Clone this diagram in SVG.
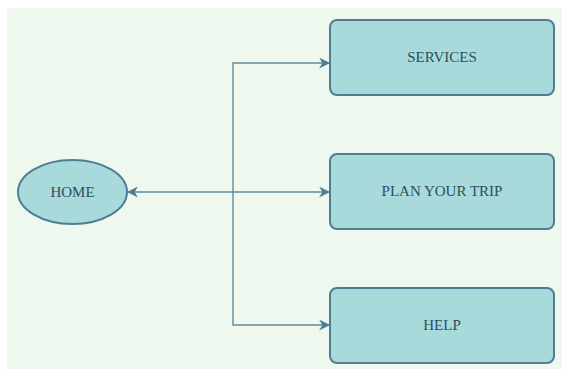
<svg xmlns="http://www.w3.org/2000/svg" width="563" height="370" viewBox="0 0 563 370">
  <style>
    .node { fill: #a8d9db; stroke: #4f7d92; stroke-width: 2; }
    .label { font-family: "Liberation Serif", "Times New Roman", serif; font-size: 15px; fill: #2e4e5c; text-anchor: middle; dominant-baseline: central; }
    .link { fill: none; stroke: #5f8c9d; stroke-width: 1.4; }
  </style>
  <defs>
    <marker id="arrow" viewBox="0 0 10 10" refX="9" refY="5" markerWidth="11" markerHeight="11" markerUnits="userSpaceOnUse" orient="auto-start-reverse">
      <path d="M0,0 L10,5 L0,10 L3,5 Z" fill="#4f7d92"/>
    </marker>
  </defs>
  <rect x="0" y="0" width="563" height="370" fill="#ffffff"/>
  <rect x="7" y="8" width="555" height="361" fill="#eff8ee"/>

  <g id="connectors">
    <path class="link" d="M128,192 L329,192" marker-start="url(#arrow)" marker-end="url(#arrow)"/>
    <path class="link" d="M233,192 L233,63 L329,63" marker-end="url(#arrow)"/>
    <path class="link" d="M233,192 L233,325 L329,325" marker-end="url(#arrow)"/>
  </g>

  <g id="home">
    <ellipse class="node" cx="72.5" cy="192" rx="54.5" ry="32"/>
    <text class="label" x="72.5" y="192">HOME</text>
  </g>
  <g id="services">
    <rect class="node" x="330" y="20" width="224" height="75" rx="7"/>
    <text class="label" x="442" y="57">SERVICES</text>
  </g>
  <g id="plan-your-trip">
    <rect class="node" x="330" y="154" width="224" height="75" rx="7"/>
    <text class="label" x="442" y="191">PLAN YOUR TRIP</text>
  </g>
  <g id="help">
    <rect class="node" x="330" y="288" width="224" height="75" rx="7"/>
    <text class="label" x="442" y="325">HELP</text>
  </g>
</svg>
